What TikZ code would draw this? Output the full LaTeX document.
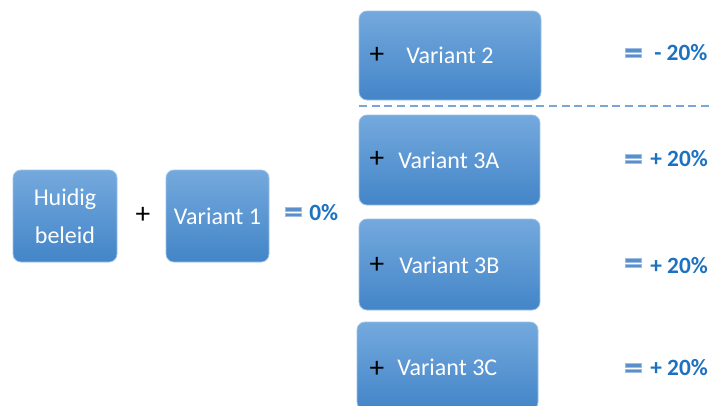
\documentclass[tikz,border=0pt]{standalone}
\usepackage{fontspec}
\setmainfont{Carlito}
\begin{document}
\begin{tikzpicture}[x=0.75pt,y=-0.75pt,
  box/.style={rounded corners=6pt, top color=boxtop, bottom color=boxbot, draw=boxedge, line width=0.6pt, inner sep=0pt},
  boxtext/.style={text=white, font=\fontsize{18}{28.5}\selectfont, align=center, inner sep=0pt},
  plus/.style={text=black, font=\fontsize{22}{22}\selectfont, inner sep=0pt},
  pct/.style={text=pctblue, font=\fontsize{17.5}{18}\selectfont\bfseries, anchor=west, inner sep=0pt},
  eqbar/.style={fill=barblue, draw=barlight, line width=0.4pt}
]
\definecolor{boxtop}{HTML}{74A9DD}
\definecolor{boxbot}{HTML}{4385C8}
\definecolor{boxedge}{HTML}{9CC1E6}
\definecolor{pctblue}{HTML}{1C72C0}
\definecolor{barblue}{HTML}{5B8FC9}
\definecolor{barlight}{HTML}{9DBFE3}
\definecolor{dashblue}{HTML}{7AA6D6}
\useasboundingbox (0,0) rectangle (713,405);
\clip (0,0) rectangle (713,405);

% boxes
\node[box, minimum width=78pt, minimum height=69pt] (hb) at (65,216) {};
\node[boxtext] (hbt) at (65,216) {Huidig\\beleid};
\node[box, minimum width=77.25pt, minimum height=69pt] (v1) at (217.5,216) {};
\node[boxtext] (v1t) at (217.5,216) {Variant 1};

\node[box, minimum width=136.5pt, minimum height=66.75pt] (v2) at (450,55.5) {};
\node[box, minimum width=135.75pt, minimum height=67.5pt] (v3a) at (449.5,160) {};
\node[box, minimum width=135.75pt, minimum height=68.25pt] (v3b) at (449.5,264.5) {};
\node[box, minimum width=135.75pt, minimum height=66pt] (v3c) at (447.5,366) {};

\node[boxtext, anchor=west] (v2t) at (406,55) {Variant 2};
\node[boxtext, anchor=west] (v3at) at (398,160) {Variant 3A};
\node[boxtext, anchor=west] (v3bt) at (399,265) {Variant 3B};
\node[boxtext, anchor=west] (v3ct) at (397,367) {Variant 3C};

% plus signs
\node[plus] (p0) at (143,215) {+};
\node[plus] (p2) at (377,55) {+};
\node[plus] (p3a) at (377,159) {+};
\node[plus] (p3b) at (377,265) {+};
\node[plus] (p3c) at (377,369) {+};

% dashed separator
\coordinate (dl) at (359,106);
\coordinate (dr) at (713,106);
\draw[dashblue, line width=1.1pt, dash pattern=on 6pt off 3.5pt] (dl) -- (dr);

% equals icons
\foreach \n/\x/\y in {e1/285/212, e2/625/53, e3/625/159, e4/625/263, e5/625/368}{
  \fill[eqbar] (\x,\y-4.5) rectangle (\x+16,\y-1);
  \fill[eqbar] (\x,\y+1) rectangle (\x+16,\y+4.5);
}

% percentages
\node[pct] (r0) at (309,213) {0\%};
\node[pct] (r2) at (654,53) {- 20\%};
\node[pct] (r3a) at (650,159) {+ 20\%};
\node[pct] (r3b) at (650,266) {+ 20\%};
\node[pct] (r3c) at (650,368) {+ 20\%};
\end{tikzpicture}
\end{document}
